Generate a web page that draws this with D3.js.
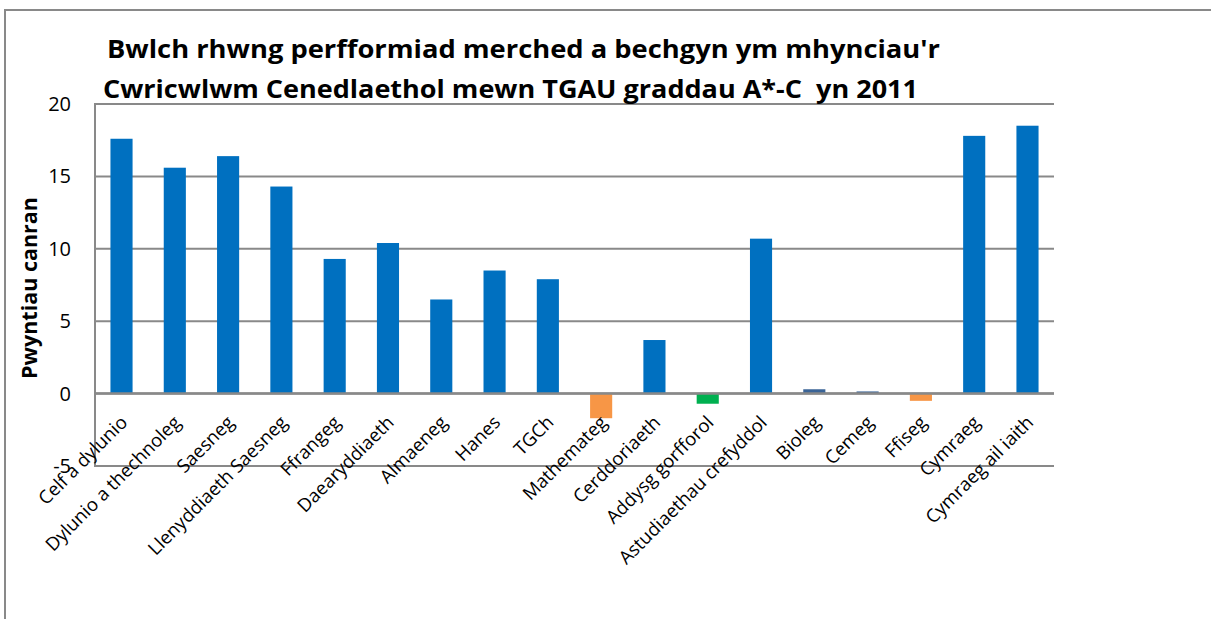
<!DOCTYPE html>
<html><head><meta charset="utf-8">
<script src="https://cdn.jsdelivr.net/npm/d3@7"></script>
<style>body{margin:0;background:#fff}svg{display:block}</style>
</head><body>
<svg id="c" width="1211" height="619"></svg>
<script>
const categories = ["Celf a dylunio","Dylunio a thechnoleg","Saesneg","Llenyddiaeth Saesneg","Ffrangeg","Daearyddiaeth","Almaeneg","Hanes","TGCh","Mathemateg","Cerddoriaeth","Addysg gorfforol","Astudiaethau crefyddol","Bioleg","Cemeg","Ffiseg","Cymraeg","Cymraeg ail iaith"];
const values = [17.6,15.6,16.4,14.3,9.3,10.4,6.5,8.5,7.9,-1.7,3.7,-0.7,10.7,0.3,0.15,-0.5,17.8,18.5];
const barColors = ["#0070C0","#0070C0","#0070C0","#0070C0","#0070C0","#0070C0","#0070C0","#0070C0","#0070C0","#F79646","#0070C0","#00B050","#0070C0","#3A6497","#3A6497","#F79646","#0070C0","#0070C0"];
const yTicks = [-5,0,5,10,15,20];
const titleLines = ["Bwlch rhwng perfformiad merched a bechgyn ym mhynciau'r","Cwricwlwm Cenedlaethol mewn TGAU graddau A*-C  yn 2011"];
const yTitle = "Pwyntiau canran";

const svg = d3.select("#c");
const font = "'Open Sans', sans-serif";
const L = 95, R = 1054, T = 104, B = 466;
const grey = "#898989";

// outer chart border
svg.append("rect").attr("x",5).attr("y",10).attr("width",1260).attr("height",700)
  .attr("fill","#fff").attr("stroke",grey).attr("stroke-width",2);

const x = d3.scaleBand().domain(categories).range([L,R]).paddingInner(0.585).paddingOuter(0.29);
const y = d3.scaleLinear().domain([-5,20]).range([B,T]);

// gridlines
svg.append("g").selectAll("line").data(yTicks).join("line")
  .attr("x1",L).attr("x2",R).attr("y1",d=>y(d)).attr("y2",d=>y(d))
  .attr("stroke",grey).attr("stroke-width",2);
// left axis line
svg.append("line").attr("x1",L).attr("x2",L).attr("y1",T-1).attr("y2",B+1).attr("stroke",grey).attr("stroke-width",2);

// bars
svg.append("g").selectAll("rect").data(values).join("rect")
  .attr("x",(d,i)=>x(categories[i]))
  .attr("width",x.bandwidth())
  .attr("y",d=>y(Math.max(0,d)))
  .attr("height",d=>Math.abs(y(d)-y(0)))
  .attr("fill",(d,i)=>barColors[i]);

// zero line on top
svg.append("line").attr("x1",L).attr("x2",R).attr("y1",y(0)).attr("y2",y(0)).attr("stroke",grey).attr("stroke-width",2.5);

// y tick labels
svg.append("g").selectAll("text").data(yTicks).join("text")
  .attr("x",71).attr("y",d=>y(d)).attr("dy","0.35em").attr("text-anchor","end")
  .attr("font-family",font).attr("font-size",20).attr("fill","#000")
  .text(d=>d);

// x labels
svg.append("g").selectAll("text").data(categories).join("text")
  .attr("transform",d=>`translate(${x(d)+x.bandwidth()/2+7},${y(0)+30}) rotate(-45)`)
  .attr("text-anchor","end")
  .attr("font-family",font).attr("font-size",18.5).attr("fill","#000")
  .text(d=>d);

// y title
svg.append("text").attr("transform",`translate(37,288) rotate(-90)`)
  .attr("text-anchor","middle").attr("font-family",font).attr("font-weight","bold")
  .attr("font-size",21.5).text(yTitle);

// title
const tt = svg.append("g");
const tx = [107,103], ty = [58,98], tw = [833,815];
titleLines.forEach((t,i)=>{
  const el = tt.append("text").attr("x",tx[i]).attr("y",ty[i]).attr("font-family",font)
    .attr("font-weight","bold").attr("font-size",25).attr("xml:space","preserve").text(t);
  el.attr("textLength",tw[i]).attr("lengthAdjust","spacingAndGlyphs");
});
</script>
</body></html>
